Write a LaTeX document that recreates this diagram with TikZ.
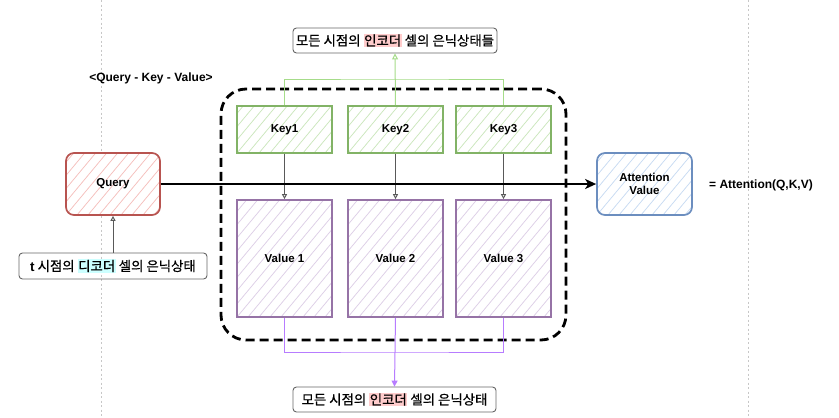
\documentclass[tikz,border=0pt]{standalone}
\usepackage{fontspec}
\setmainfont{Liberation Sans}
\newfontfamily\kr[FakeBold=0.7]{Noto Sans CJK KR}
\usetikzlibrary{arrows.meta,calc}
\definecolor{redb}{HTML}{B85450}
\definecolor{redh}{HTML}{F5BDBA}
\definecolor{greenb}{HTML}{82B366}
\definecolor{greenh}{HTML}{C9E6BA}
\definecolor{purpleb}{HTML}{9673A6}
\definecolor{purpleh}{HTML}{DCCDE6}
\definecolor{blueb}{HTML}{6C8EBF}
\definecolor{blueh}{HTML}{C6DAF2}
\definecolor{glink}{HTML}{A6DC8A}
\definecolor{plink}{HTML}{B77CFF}
\definecolor{hlpink}{HTML}{FFCCCC}
\definecolor{hlcyan}{HTML}{CCFFFF}
\definecolor{lblgray}{HTML}{666666}
\newcommand\hlbox[2]{{\setlength\fboxsep{0.6pt}\colorbox{#1}{#2}}}
\begin{document}
\begin{tikzpicture}[x=1pt,y=-1pt,
  hatch/.style={path picture={\foreach \i in {-14,...,10}
      \draw[#1, line width=0.7pt] ([xshift=\i*11pt]path picture bounding box.south west) -- ++(130pt,156pt);}},
  cell/.style={draw=#1, line width=1.7pt, fill=white, minimum width=95pt,
      font=\bfseries\fontsize{11.5}{13.5}\selectfont, inner sep=0pt, align=center},
  keybox/.style={cell=greenb, hatch=greenh, minimum height=47pt},
  valbox/.style={cell=purpleb, hatch=purpleh, minimum height=117pt},
  qbox/.style={cell=redb, hatch=redh, minimum height=62pt, minimum width=94pt, rounded corners=8pt},
  abox/.style={cell=blueb, hatch=blueh, minimum height=62pt, rounded corners=8pt},
  lbl/.style={draw=lblgray, line width=0.9pt, rounded corners=3.5pt, minimum height=25pt,
      inner xsep=2pt, inner ysep=0pt, font=\kr\fontsize{13.4}{15}\selectfont},
  guide/.style={draw=black!22, line width=0.8pt, dash pattern=on 2pt off 2.5pt},
  cont/.style={draw=black, line width=2.8pt, dash pattern=on 9pt off 5pt, rounded corners=25pt,
      minimum width=345pt, minimum height=251pt, inner sep=0pt},
  gline/.style={draw=glink, line width=1pt},
  pline/.style={draw=plink, line width=1pt},
  kvarrow/.style={draw=black!65, line width=0.9pt, -{Triangle[open,length=5pt,width=5pt]}},
  qarrow/.style={draw=black, line width=2pt, -{Stealth[length=11pt,width=10pt,inset=3pt]}},
  title/.style={font=\bfseries\fontsize{12}{14}\selectfont, inner sep=0pt}
]
\useasboundingbox (0,0) rectangle (839,418);
\fill[white] (0,0) rectangle (839,418);

% guide lines
\coordinate (g1t) at (101,0);
\coordinate (g1b) at (101,418);
\coordinate (g2t) at (748,0);
\coordinate (g2b) at (748,418);
\draw[guide] (g1t) -- (g1b);
\draw[guide] (g2t) -- (g2b);

% container
\node[cont] (ct) at (393.5,214.5) {};

% labels
\node[lbl, minimum width=204pt] (top) at (395,40.5)
  {모든 시점의 \hlbox{hlpink}{인코더} 셀의 은닉상태들};
\node[lbl, minimum width=203pt] (bot) at (394.5,399.5)
  {모든 시점의 \hlbox{hlpink}{인코더} 셀의 은닉상태};
\node[lbl, minimum width=188pt, minimum height=26pt] (tl) at (113,266)
  {{\fontspec{Liberation Sans}\bfseries t} 시점의 \hlbox{hlcyan}{디코더} 셀의 은닉상태};

\node[title] (qkv) at (151,78) {<Query - Key - Value>};
\node[title] (eq) at (761,185) {= Attention(Q,K,V)};

% junction coordinates
\coordinate (gj) at (395.5,79);
\coordinate (pj) at (395.5,352);

% key and value boxes
\node[keybox] (k1) at (284.5,129.5) {Key1};
\node[keybox] (k2) at (395.5,129.5) {Key2};
\node[keybox] (k3) at (503.5,129.5) {Key3};
\node[valbox] (v1) at (284.5,258.5) {Value 1};
\node[valbox] (v2) at (395.5,258.5) {Value 2};
\node[valbox] (v3) at (503.5,258.5) {Value 3};

% green links
\draw[gline] (k1.north) |- (gj) -| (k3.north);
\draw[gline, -{Triangle[open,length=6pt,width=6pt]}] (k2.north) -- (top.south);
% purple links
\draw[pline] (v1.south) |- (pj) -| (v3.south);
\draw[pline, -{Triangle[length=6pt,width=6pt]}] (v2.south) -- (bot.north);

% query and attention
\node[qbox] (q) at (113,184) {Query};
\node[abox] (av) at (644.5,184) {Attention\\Value};

% key -> value
\draw[kvarrow] (k1.south) -- (v1.north);
\draw[kvarrow] (k2.south) -- (v2.north);
\draw[kvarrow] (k3.south) -- (v3.north);

% t label -> query
\draw[kvarrow] (tl.north) -- (q.south);

% query -> attention
\draw[qarrow] (q.east) -- (av.west);
\end{tikzpicture}
\end{document}
